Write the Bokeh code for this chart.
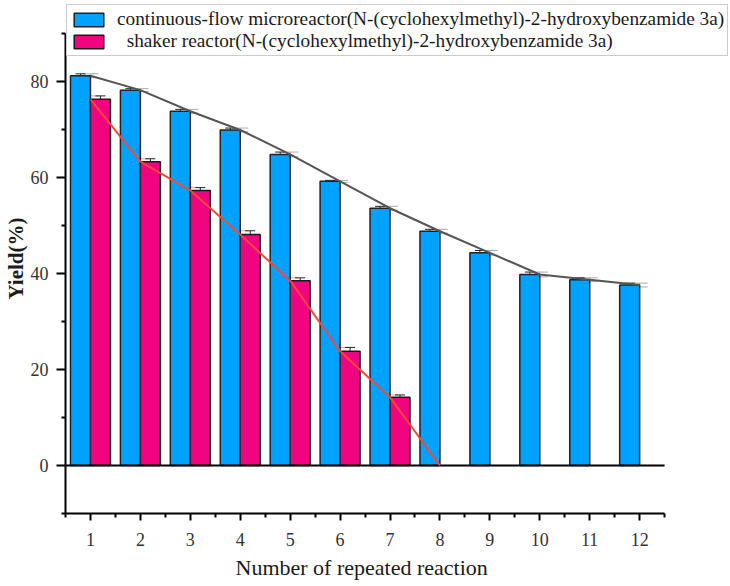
from bokeh.plotting import figure
from bokeh.models import (Range1d, FixedTicker, ColumnDataSource, Whisker,
                          Legend, LegendItem, Title)
from bokeh.embed import file_html
from bokeh.resources import INLINE

# Repeated-use yields of 3a in two reactor types
runs = [1, 2, 3, 4, 5, 6, 7, 8, 9, 10, 11, 12]
flow_yield = [81.2, 78.2, 73.8, 69.9, 64.8, 59.2, 53.6, 48.8, 44.3, 39.8, 38.7, 37.6]
flow_err = [0.4, 0.3, 0.4, 0.4, 0.5, 0.2, 0.4, 0.4, 0.5, 0.5, 0.4, 0.4]
shaker_runs = [1, 2, 3, 4, 5, 6, 7]
shaker_yield = [76.3, 63.3, 57.3, 48.1, 38.5, 23.8, 14.2]
shaker_err = [0.7, 0.6, 0.6, 0.8, 0.6, 0.8, 0.5]
# trend line for the shaker reactor continues to zero at run 8
shaker_line_runs = shaker_runs + [8]
shaker_line_yield = shaker_yield + [0.0]

flow_label = "continuous-flow microreactor(N-(cyclohexylmethyl)-2-hydroxybenzamide 3a)"
shaker_label = "\u00a0\u00a0shaker reactor(N-(cyclohexylmethyl)-2-hydroxybenzamide 3a)"

x_title = "Number of repeated reaction"
y_title = "Yield(%)"

BLUE = "#00A2FF"
PINK = "#F0047F"
SERIF = "Liberation Serif"
BAR_W = 0.4
X_LO, X_HI = 0.5, 12.5
Y_LO, Y_HI = -10, 90

# the frame is widened to hold the legend; the axes themselves stop at X_HI / Y_HI
p = figure(width=730, height=586, output_backend="svg", toolbar_location=None,
           x_range=Range1d(X_LO, 13.82), y_range=Range1d(Y_LO, 96.25),
           min_border_left=65, min_border_right=0,
           min_border_top=3, min_border_bottom=73)
p.outline_line_color = None
p.xgrid.visible = False
p.ygrid.visible = False
p.background_fill_color = "white"
p.border_fill_color = "white"

flow_src = ColumnDataSource(dict(
    x=[r - BAR_W / 2 for r in runs], run=runs, y=flow_yield,
    lo=[v - e for v, e in zip(flow_yield, flow_err)],
    hi=[v + e for v, e in zip(flow_yield, flow_err)]))
shaker_src = ColumnDataSource(dict(
    x=[r + BAR_W / 2 for r in shaker_runs], run=shaker_runs, y=shaker_yield,
    lo=[v - e for v, e in zip(shaker_yield, shaker_err)],
    hi=[v + e for v, e in zip(shaker_yield, shaker_err)]))

r_flow = p.vbar(x="x", top="y", bottom=0, width=BAR_W, source=flow_src,
                fill_color=BLUE, line_color="#222222", line_width=1.5)
r_shaker = p.vbar(x="x", top="y", bottom=0, width=BAR_W, source=shaker_src,
                  fill_color=PINK, line_color="#1a1a1a", line_width=1.5)

# zero baseline across the axis extent
p.line([X_LO, X_HI], [0, 0], line_color="black", line_width=2)

# trend lines through the run positions
p.line(runs, flow_yield, line_color="#555555", line_width=2)
p.line(shaker_line_runs, shaker_line_yield, line_color="#F4483C", line_width=2)

# faint error caps on the trend lines
for src, col in ((flow_src, "#aaaaaa"), (shaker_src, "#f79a9a")):
    w = Whisker(base="run", lower="lo", upper="hi", source=src,
                line_color=col, line_width=1)
    w.upper_head.size = 16
    w.lower_head.size = 16
    w.upper_head.line_color = col
    w.lower_head.line_color = col
    p.add_layout(w)

# error bars on the bars
for src in (flow_src, shaker_src):
    w = Whisker(base="x", lower="lo", upper="hi", source=src,
                line_color="#222222", line_width=1)
    w.upper_head.size = 10
    w.lower_head.size = 10
    w.upper_head.line_color = "#222222"
    w.lower_head.line_color = "#222222"
    p.add_layout(w)

# axes
xa = p.xaxis[0]
xa.ticker = FixedTicker(ticks=runs, minor_ticks=[r - 0.5 for r in runs] + [12.5])
xa.bounds = (X_LO, X_HI)
ya = p.yaxis[0]
ya.ticker = FixedTicker(ticks=[0, 20, 40, 60, 80], minor_ticks=[-10, 10, 30, 50, 70, 90])
ya.axis_label = y_title
ya.bounds = (Y_LO, Y_HI)

for ax in (xa, ya):
    ax.axis_line_color = "black"
    ax.axis_line_width = 2
    ax.major_tick_line_color = "black"
    ax.major_tick_line_width = 2
    ax.minor_tick_line_color = "black"
    ax.minor_tick_line_width = 2
    ax.major_tick_in = 0
    ax.minor_tick_in = 0
    ax.major_label_text_font = SERIF
    ax.major_label_text_font_size = "18px"
    ax.major_label_text_color = "#333333"
    ax.axis_label_text_font = SERIF
    ax.axis_label_text_color = "#1a1a1a"

xa.major_tick_out = 7
xa.minor_tick_out = 4
xa.major_label_standoff = 12

ya.major_tick_out = 9
ya.minor_tick_out = 4
ya.major_label_standoff = 8
ya.axis_label_standoff = 0
ya.axis_label_text_font_size = "21px"
ya.axis_label_text_font_style = "bold"

# x title centred under the axis extent rather than the widened frame
p.add_layout(Title(text=x_title, align="left", offset=170,
                   text_font=SERIF, text_font_size="22px",
                   text_font_style="normal", text_color="#1a1a1a",
                   standoff=8), "below")

legend = Legend(items=[LegendItem(label=flow_label, renderers=[r_flow]),
                       LegendItem(label=shaker_label, renderers=[r_shaker])],
                location="top_left", orientation="vertical",
                glyph_width=37, glyph_height=17, label_standoff=10,
                label_text_font=SERIF, label_text_font_size="19.3px",
                label_text_color="#1a1a1a", label_height=17,
                spacing=0, padding=3, margin=1,
                border_line_color="#999999", border_line_width=1.5,
                background_fill_color="white", background_fill_alpha=1)
p.add_layout(legend, "center")

open("out.html", "w").write(file_html(p, INLINE))
